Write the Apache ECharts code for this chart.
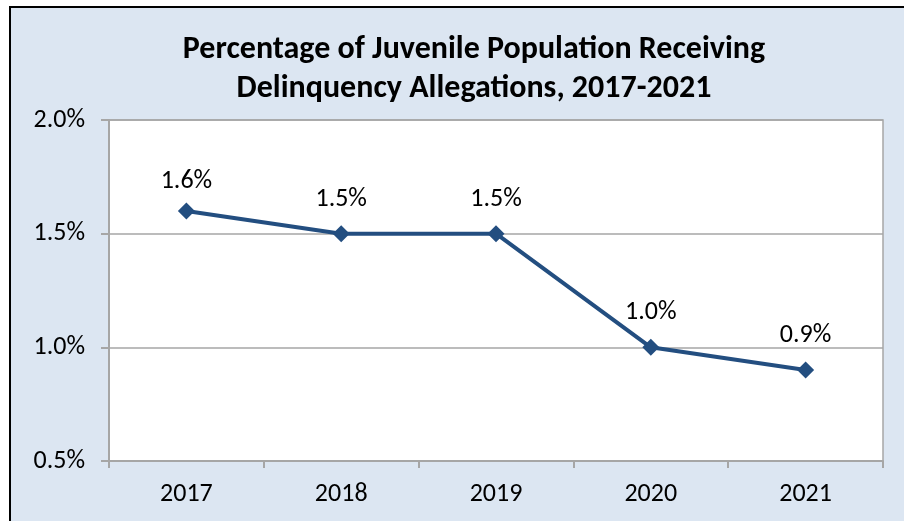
<!DOCTYPE html>
<html><head><meta charset="utf-8">
<script src="https://cdn.jsdelivr.net/npm/echarts@6/dist/echarts.min.js"></script>
<style>
html,body{margin:0;padding:0;background:#fff;overflow:hidden;}
#bg{position:absolute;left:9px;top:6px;width:1000px;height:600px;background:#dce6f2;border-left:2px solid #000;border-top:2px solid #000;}
#chart{position:absolute;left:0;top:0;width:948px;height:521px;}
</style></head>
<body>
<div id="bg"></div>
<div id="chart"></div>
<script>
const years = ['2017','2018','2019','2020','2021'];
const pctValues = [1.6, 1.5, 1.5, 1.0, 0.9];
const labelGaps = [8, 13, 13, 13, 13];
const yTicks = {min: 0.5, max: 2.0, interval: 0.5};
const titleText = 'Percentage of Juvenile Population Receiving\nDelinquency Allegations, 2017-2021';

const chart = echarts.init(document.getElementById('chart'), null, {renderer:'canvas'});
const font = 'Carlito, "Open Sans", "Liberation Sans", sans-serif';
chart.setOption({
  backgroundColor: 'transparent',
  animation: false,
  title: {
    text: titleText,
    left: 'center', top: 25,
    textStyle: {fontFamily: font, fontWeight: 'bold', fontSize: 32, color: '#000', lineHeight: 39}
  },
  grid: {left: 109, right: 65, top: 120, bottom: 60, show: true, backgroundColor: '#fff', borderColor: '#a6a6a6', borderWidth: 1.5},
  xAxis: {
    type: 'category', data: years, boundaryGap: true,
    axisLine: {lineStyle: {color: '#a6a6a6', width: 2}},
    axisTick: {show: true, length: 7, alignWithLabel: false, lineStyle: {color: '#a6a6a6', width: 2}},
    axisLabel: {fontFamily: font, fontSize: 26, color: '#000', margin: 20}
  },
  yAxis: {
    type: 'value', min: yTicks.min, max: yTicks.max, interval: yTicks.interval,
    axisLine: {show: true, lineStyle: {color: '#a6a6a6', width: 2}},
    axisTick: {show: true, length: 8, lineStyle: {color: '#a6a6a6', width: 2}},
    splitLine: {show: true, lineStyle: {color: '#a6a6a6', width: 1.5}},
    axisLabel: {fontFamily: font, fontSize: 26, color: '#000', margin: 24,
      formatter: v => v.toFixed(1) + '%'}
  },
  series: [{
    type: 'line',
    data: pctValues.map((v, i) => ({value: v, label: {distance: labelGaps[i]}})),
    lineStyle: {color: '#234e80', width: 4},
    itemStyle: {color: '#234e80'},
    symbol: 'diamond', symbolSize: 17, showAllSymbol: true,
    label: {show: true, position: 'top', distance: 13, fontFamily: font, fontSize: 26, color: '#000',
      formatter: p => p.value.toFixed(1) + '%'}
  }]
});
</script>
</body></html>
